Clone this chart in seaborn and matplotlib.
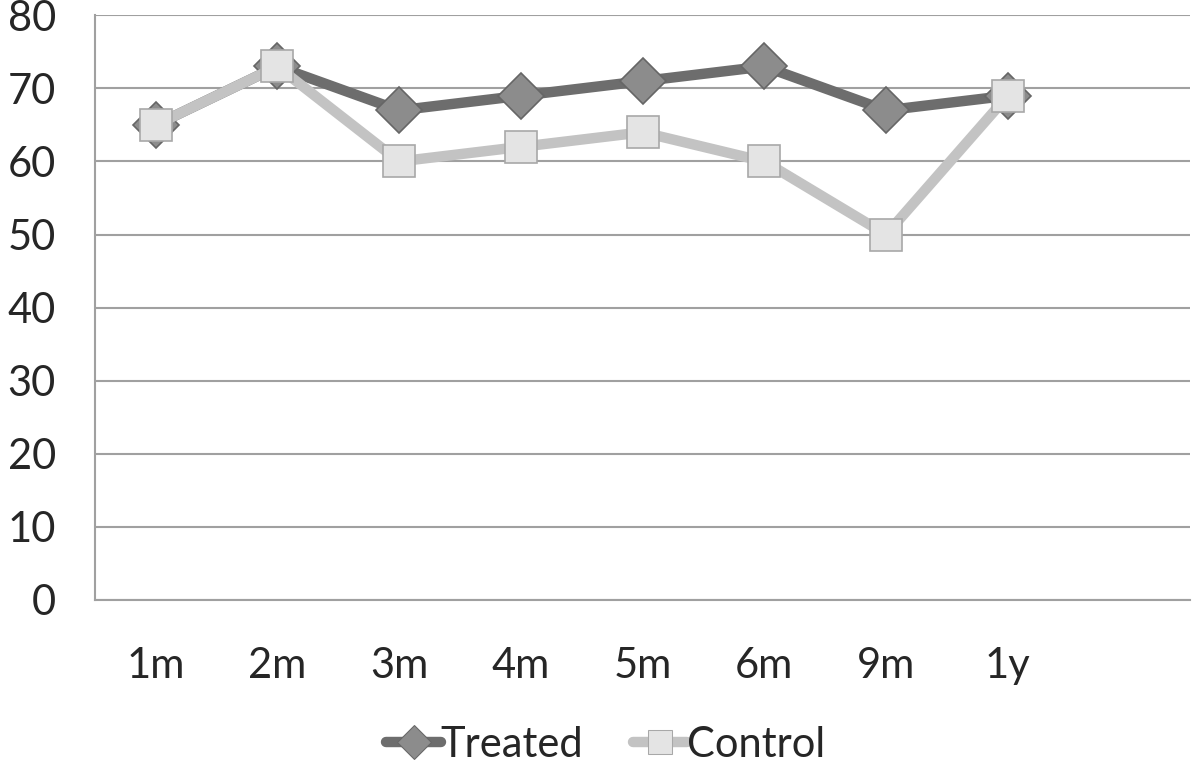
import numpy as np
import pandas as pd
import matplotlib
matplotlib.use("Agg")
import matplotlib.pyplot as plt
import seaborn as sns

# data
periods = ['1m', '2m', '3m', '4m', '5m', '6m', '9m', '1y']
treated = [65, 73, 67, 69, 71, 73, 67, 69]
control = [65, 73, 60, 62, 64, 60, 50, 69]

df = pd.DataFrame({
    'period': periods * 2,
    'value': treated + control,
    'group': ['Treated'] * len(periods) + ['Control'] * len(periods),
})

sns.set_style('white')
plt.rcParams['font.family'] = ['Lato', 'DejaVu Sans']

fig = plt.figure(figsize=(12, 7.68), dpi=100)
ax = fig.add_axes([0.079, 0.219, 0.913, 0.761])

sns.lineplot(
    data=df, x='period', y='value', hue='group', style='group',
    hue_order=['Treated', 'Control'], style_order=['Treated', 'Control'],
    palette={'Treated': '#6d6d6d', 'Control': '#c3c3c3'},
    markers={'Treated': 'D', 'Control': 's'}, dashes=False,
    linewidth=7.5, markersize=23, sort=False, ax=ax,
)

# marker faces
for line, face, edge in zip(ax.get_lines()[:2], ['#8c8c8c', '#e4e4e4'], ['#666666', '#a8a8a8']):
    line.set_markerfacecolor(face)
    line.set_markeredgecolor(edge)
    line.set_markeredgewidth(1.2)

ax.set_ylim(0, 80)
ax.set_xlim(-0.5, 8.5)
ax.set_yticks(range(0, 81, 10))
ax.yaxis.grid(True, color='#a0a0a0', linewidth=1.5)
ax.set_axisbelow(True)
ax.set_xlabel('')
ax.set_ylabel('')
ax.tick_params(axis='both', length=0, labelsize=30)
ax.tick_params(axis='x', pad=34)
ax.tick_params(axis='y', pad=28)
for side in ['top', 'right']:
    ax.spines[side].set_visible(False)
for side in ['left', 'bottom']:
    ax.spines[side].set_color('#a0a0a0')
    ax.spines[side].set_linewidth(1.5)

handles, labels = ax.get_legend_handles_labels()
for h, face, edge in zip(handles, ['#8c8c8c', '#e4e4e4'], ['#666666', '#a8a8a8']):
    h.set_markerfacecolor(face)
    h.set_markeredgecolor(edge)
    h.set_markersize(17)
    h.set_linewidth(7.5)
ax.legend(handles, labels, loc='center', bbox_to_anchor=(0.505, 0.03),
          bbox_transform=fig.transFigure, ncol=2, frameon=False,
          fontsize=30, handlelength=1.3, handletextpad=0.0, columnspacing=1.2)

fig.savefig('out.png', dpi=100)
